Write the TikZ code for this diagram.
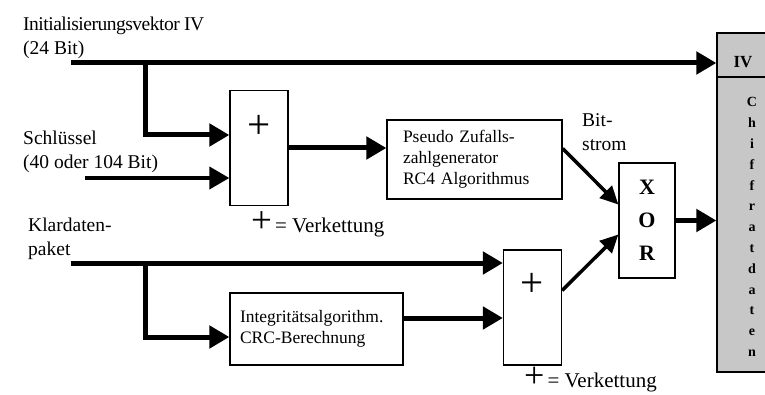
\documentclass[tikz,border=0pt]{standalone}
\usepackage{fontspec}
\setmainfont{Liberation Serif}
\usetikzlibrary{arrows.meta, calc, positioning}

\begin{document}
\begin{tikzpicture}[
        x=1pt, y=-1pt,
        box/.style={rectangle, draw, line width=1.3pt, fill=white, align=left, inner ysep=0pt, font=\fontsize{17.5}{21}\selectfont},
        joint/.style={rectangle, draw, line width=1.3pt, fill=white, minimum width=58pt, minimum height=115pt},
        tag/.style={align=left, inner sep=0pt, anchor=north west, font=\fontsize{19.5}{24}\selectfont},
        legend/.style={inner sep=0pt, anchor=base west, font=\fontsize{21}{24}\selectfont},
        arrow/.style={line width=5pt, -{Triangle[length=20pt, width=22pt]}},
        slant/.style={line width=3.5pt, -{Triangle[length=18pt, width=17pt]}}
    ]
        \useasboundingbox (0,0) rectangle (765,395);
        % inputs
        \node[tag] (ivtext) at (23,17) {{\addfontfeature{LetterSpace=-2.5}Initialisierungsvektor IV}\\(24 Bit)};
        \node[tag] (keytext) at (23,131) {Schlüssel\\(40 oder 104 Bit)};
        \node[tag] (dattext) at (28,218) {Klardaten-\\paket};
        \coordinate (ivin) at (71,63);
        \coordinate (ivfork) at (145,63);
        \coordinate (keyin) at (85,178);
        \coordinate (datin) at (71,263);
        \coordinate (datfork) at (145,263);
        % blocks
        \node[joint] (catA) at (259,148) {};
        \node[font=\fontsize{41}{41}\selectfont, inner sep=0pt] (plusA) at ($(catA.north)+(0,37)$) {+};
        \node[box, inner xsep=16pt, text width=143pt, minimum height=79pt] (prng) at (474.5,159.5) {Pseudo Zufalls-\\zahlgenerator\\RC4 Algorithmus};
        \node[box, inner xsep=10pt, text width=153pt, minimum height=72pt] (crc) at (316.5,329) {Integritätsalgorithm.\\CRC-Berechnung};
        \node[joint] (catB) at (532.5,307.5) {};
        \node[font=\fontsize{41}{41}\selectfont, inner sep=0pt] (plusB) at ($(catB.north)+(0,36)$) {+};
        \node[joint, minimum width=56pt, align=center, font=\fontsize{22}{33}\selectfont\bfseries] (xor) at (647,220.5) {X\\O\\R};
        \node[tag] (bittext) at (582,113) {Bit-\\strom};
        \node[rectangle, draw, line width=1.3pt, fill=black!22, minimum width=58pt, minimum height=339pt] (chiffr) at (746,202.5) {};
        \draw[line width=1.3pt] (chiffr.west |- 0,77) -- (chiffr.east |- 0,77);
        \node[font=\fontsize{17}{17}\selectfont\bfseries, inner sep=0pt] (ivout) at (743,62) {IV};
        \node[align=center, inner sep=0pt, font=\fontsize{14}{20.8}\selectfont\bfseries] (chtext) at (752,227) {C\\h\\i\\f\\f\\r\\a\\t\\d\\a\\t\\e\\n};
        % legends
        \node[legend] (legA) at (251,233) {{\fontsize{37}{37}\selectfont+}\kern3pt= Verkettung};
        \node[legend] (legB) at (524,387) {{\fontsize{36}{36}\selectfont+}\kern3pt= Verkettung};
        % connectors
        \draw[arrow] (ivin) -- (chiffr.west |- ivin);
        \draw[arrow] (ivfork) |- ($(catA.west)+(0,-13)$);
        \draw[arrow, line width=4pt] (keyin) -- (catA.west |- keyin);
        \draw[arrow] (catA.east) -- (catA.east -| prng.west);
        \draw[slant] ($(prng.east)+(0,-11)$) -- ($(xor.west)+(0,-16)$);
        \draw[arrow] (datin) -- (catB.west |- datin);
        \draw[arrow] (datfork) |- ($(crc.west)+(0,8)$);
        \draw[arrow] ($(crc.east)+(0,-11)$) -- ($(catB.west)+(0,10.5)$);
        \draw[slant] ($(catB.east)+(0,-17)$) -- ($(xor.west)+(0,14)$);
        \draw[arrow] (xor.east) -- (xor.east -| chiffr.west);
    \end{tikzpicture}
\end{document}
